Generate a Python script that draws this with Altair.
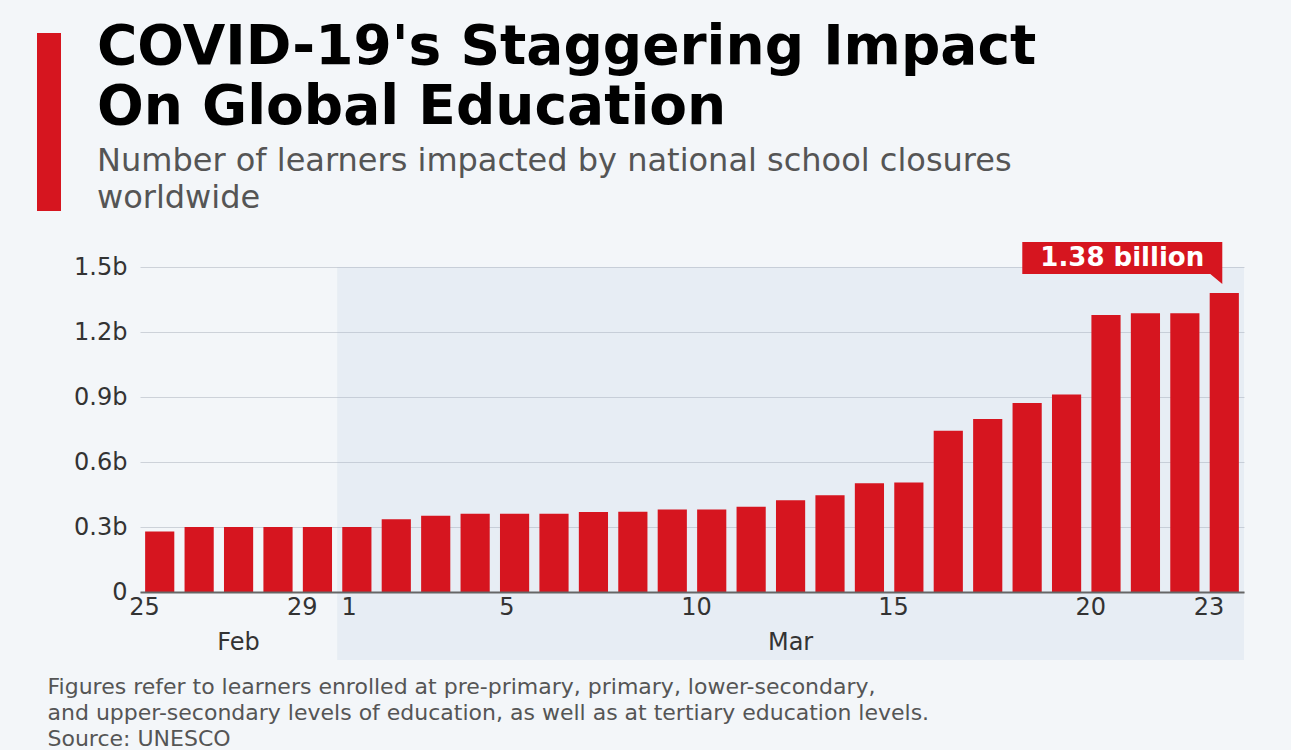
import altair as alt
import pandas as pd

# ---- data (billions of learners) ----
feb_days = ["Feb 25", "Feb 26", "Feb 27", "Feb 28", "Feb 29"]
feb_values = [0.279, 0.300, 0.300, 0.300, 0.300]
mar_days = ["Mar 1", "Mar 2", "Mar 3", "Mar 4", "Mar 5", "Mar 6", "Mar 7", "Mar 8",
            "Mar 9", "Mar 10", "Mar 11", "Mar 12", "Mar 13", "Mar 14", "Mar 15", "Mar 16",
            "Mar 17", "Mar 18", "Mar 19", "Mar 20", "Mar 21", "Mar 22", "Mar 23"]
mar_values = [0.300, 0.336, 0.352, 0.361, 0.361, 0.361, 0.369, 0.370,
              0.381, 0.381, 0.394, 0.423, 0.446, 0.502, 0.505, 0.744,
              0.798, 0.872, 0.912, 1.279, 1.287, 1.287, 1.380]
tick_days = ["Feb 25", "Feb 29", "Mar 1", "Mar 5", "Mar 10", "Mar 15", "Mar 20", "Mar 23"]
y_ticks = [0, 0.3, 0.6, 0.9, 1.2, 1.5]
months = ["Feb", "Mar"]
month_anchor_days = ["Feb 27", "Mar 12"]
annot_day = ["Mar 23"]
annot_value = [1.38]
annot_label = ["1.38 billion"]

title_lines = ["COVID-19's Staggering Impact", "On Global Education"]
subtitle_lines = ["Number of learners impacted by national school closures", "worldwide"]
footer_lines = [
    "Figures refer to learners enrolled at pre-primary, primary, lower-secondary,",
    "and upper-secondary levels of education, as well as at tertiary education levels.",
    "Source: UNESCO",
]

RED = "#d6151f"
BG = "#f3f6f9"
W, H = 1104, 325
FONT = "DejaVu Sans"

all_days = feb_days + mar_days
df = pd.DataFrame({"day": all_days, "value": feb_values + mar_values})
shade_df = pd.DataFrame({"day": [mar_days[0]]})
month_df = pd.DataFrame({"day": month_anchor_days, "month": months})
annot_df = pd.DataFrame({"day": annot_day, "value": annot_value, "label": annot_label})
deco_df = pd.DataFrame({"k": [0]})

xscale = alt.Scale(domain=all_days, paddingInner=0, paddingOuter=0)
yscale = alt.Scale(domain=[0, 1.5], nice=False)

shade = alt.Chart(shade_df).mark_rect(color="#a9bbd9", opacity=0.15).encode(
    x=alt.X("day:N", scale=xscale, bandPosition=0),
    x2=alt.value(W),
    y=alt.value(0),
    y2=alt.value(H + 68),
)

bars = alt.Chart(df).mark_bar(color=RED, width=alt.RelativeBandSize(0.74)).encode(
    x=alt.X(
        "day:N",
        scale=xscale,
        sort=all_days,
        axis=alt.Axis(
            values=tick_days,
            labelExpr="split(datum.value, ' ')[1]",
            labelFontSize=24,
            labelFont=FONT,
            labelColor="#333333",
            labelAngle=0,
            labelPadding=15,
            ticks=False,
            domainColor="#666666",
            domainWidth=2,
            grid=False,
            title=footer_lines,
            titleFont=FONT,
            titleFontSize=22,
            titleFontWeight="normal",
            titleColor="#555555",
            titleLineHeight=26,
            titleAlign="left",
            titleAnchor="start",
            titleBaseline="alphabetic",
            titleX=-93,
            titleY=101,
        ),
    ),
    y=alt.Y(
        "value:Q",
        scale=yscale,
        axis=alt.Axis(
            values=y_ticks,
            labelExpr="datum.value == 0 ? '0' : format(datum.value, '.1f') + 'b'",
            labelFontSize=24,
            labelFont=FONT,
            labelColor="#333333",
            labelPadding=13,
            domain=False,
            ticks=False,
            gridColor="#cdd2d9",
            gridWidth=1,
            title=None,
        ),
    ),
)

month_text = alt.Chart(month_df).mark_text(
    font=FONT, fontSize=24, color="#333333", baseline="alphabetic", align="center"
).encode(
    x=alt.X("day:N", scale=xscale),
    y=alt.value(H + 58),
    text="month:N",
)

callout_path = "M -1 -0.16 L 1 -0.16 L 1 0.26 L 0.88 0.16 L -1 0.16 Z"
callout_box = alt.Chart(annot_df).mark_point(
    shape=callout_path, filled=True, color=RED, opacity=1, size=200 * 200,
    xOffset=-102, yOffset=-35, strokeWidth=0,
).encode(
    x=alt.X("day:N", scale=xscale),
    y=alt.Y("value:Q", scale=yscale),
)
callout_text = alt.Chart(annot_df).mark_text(
    font=FONT, fontSize=26, fontWeight="bold", color="white", align="center",
    baseline="middle", dx=-102, dy=-35,
).encode(
    x=alt.X("day:N", scale=xscale),
    y=alt.Y("value:Q", scale=yscale),
    text="label:N",
)

deco = alt.Chart(deco_df).mark_rect(color=RED).encode(
    x=alt.value(-103), x2=alt.value(-79), y=alt.value(-234), y2=alt.value(-56)
)

chart = alt.layer(deco, shade, bars, month_text, callout_box, callout_text).properties(
    width=W,
    height=H,
    autosize=alt.AutoSizeParams(type="none"),
    padding={"left": 140, "top": 267, "right": 47, "bottom": 158},
    background=BG,
    title=alt.TitleParams(
        text=title_lines,
        subtitle=subtitle_lines,
        anchor="start",
        dx=60,
        offset=-182,
        font=FONT,
        fontSize=55,
        fontWeight="bold",
        color="#000000",
        lineHeight=60,
        subtitleFont=FONT,
        subtitleFontSize=32,
        subtitleLineHeight=37,
        subtitleColor="#555555",
        subtitlePadding=10,
    ),
).configure_view(stroke=None)

chart.save("out.html", embed_options={"renderer": "svg", "actions": False})
